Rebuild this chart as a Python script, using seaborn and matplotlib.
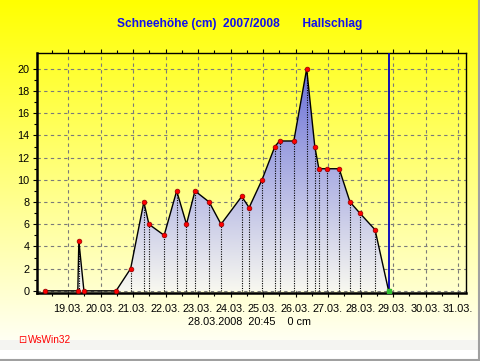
import numpy as np
import pandas as pd
import matplotlib
matplotlib.use("Agg")
import matplotlib.pyplot as plt
import matplotlib.dates as mdates
from matplotlib.colors import LinearSegmentedColormap
import seaborn as sns

# ---------------- data ----------------
times = [
    "2008-03-18 07:00", "2008-03-19 07:15", "2008-03-19 08:00", "2008-03-19 11:45",
    "2008-03-20 11:30", "2008-03-20 22:15", "2008-03-21 08:00", "2008-03-21 11:45",
    "2008-03-21 23:00", "2008-03-22 08:15", "2008-03-22 15:30", "2008-03-22 21:45",
    "2008-03-23 08:15", "2008-03-23 17:00", "2008-03-24 08:15", "2008-03-24 13:45",
    "2008-03-24 23:15", "2008-03-25 08:45", "2008-03-25 12:15", "2008-03-25 22:45",
    "2008-03-26 08:15", "2008-03-26 14:15", "2008-03-26 17:15", "2008-03-26 23:00",
    "2008-03-27 08:15", "2008-03-27 16:15", "2008-03-27 23:30", "2008-03-28 10:45",
    "2008-03-28 20:45",
]
snow_cm = [0, 0, 4.5, 0, 0, 2, 8, 6, 5, 9, 6, 9, 8, 6, 8.5, 7.5, 10, 13, 13.5, 13.5,
           20, 13, 11, 11, 11, 8, 7, 5.5, 0]
tick_dates = ["2008-03-%02d" % d for d in range(19, 32)]
tick_labels = ["%02d.03." % d for d in range(19, 32)]
y_ticks = [0, 2, 4, 6, 8, 10, 12, 14, 16, 18, 20]
title = "Schneehöhe (cm)  2007/2008       Hallschlag"
footer = "28.03.2008  20:45    0 cm"
current_time = "2008-03-28 20:45"

df = pd.DataFrame({"time": pd.to_datetime(times), "snow": snow_cm})

# ---------------- figure ----------------
W, H = 481, 361
fig = plt.figure(figsize=(W / 100, H / 100), dpi=100)
plt.rcParams['font.family'] = ['Liberation Sans', 'DejaVu Sans']

# background gradient
bg = fig.add_axes([0, 0, 1, 1])
bg.set_xlim(0, W)
bg.set_ylim(H, 0)
bg.axis("off")
ys = np.linspace(0, 340, 200)
blue = np.clip(ys / 340 * 0.95, 0, 1)
grad = np.zeros((200, 1, 3))
grad[:, 0, 0] = 1
grad[:, 0, 1] = 1
grad[:, 0, 2] = blue
bg.imshow(grad, extent=[0, W, 340, 0], aspect="auto", zorder=0)
bg.add_patch(plt.Rectangle((0, 340), W, 10, color="#f4f4f1", zorder=1, lw=0))
bg.add_patch(plt.Rectangle((0, 350), W, 11, color="#ffffff", zorder=1, lw=0))
bg.plot([479.5, 479.5], [0, H], color="#a0a0a0", lw=1.5, zorder=2)
bg.plot([0, W], [359.5, 359.5], color="#a0a0a0", lw=1.5, zorder=2)

# plot axes
L, R, T, B = 36.7, 466, 53.3, 292.5
ax = fig.add_axes([L / W, 1 - B / H, (R - L) / W, (B - T) / H])
ax.patch.set_alpha(0)

x0 = pd.Timestamp("2008-03-18 00:53")
x1 = pd.Timestamp("2008-03-31 05:54")
ax.set_xlim(x0, x1)
ax.set_ylim(-0.15, 21.4)

# gradient fill under curve
cmap = LinearSegmentedColormap.from_list("snow", ["#f8f8f0", "#6a70d8"])
gimg = np.linspace(0, 1, 256).reshape(-1, 1)
xn = mdates.date2num(df["time"])
im = ax.imshow(gimg, cmap=cmap, origin="lower", aspect="auto",
               extent=[mdates.date2num(x0), mdates.date2num(x1), 0, 20], zorder=1)
poly = ax.fill_between(xn, 0, df["snow"].values, color="none", lw=0)
im.set_clip_path(poly.get_paths()[0], transform=ax.transData)

# grid
ax.set_xticks(pd.to_datetime(tick_dates))
ax.set_xticklabels(tick_labels)
ax.set_yticks(y_ticks)
ax.grid(True, color="#7a7a7a", linestyle=(0, (3, 3)), lw=0.8, zorder=0.5)
ax.set_axisbelow(True)

# drop lines
ax.vlines(df["time"], 0, df["snow"], colors="black", linestyles=(0, (1, 1.2)), lw=0.8, zorder=2)

# line + markers
sns.lineplot(data=df, x="time", y="snow", ax=ax, color="black", lw=1, marker="o",
             markersize=3.4, markerfacecolor="red", markeredgecolor="#900000",
             markeredgewidth=0.5, zorder=4)

# current time line
ct = pd.Timestamp(current_time)
ax.axvline(ct, color="#0000c0", lw=1.3, zorder=3)
ax.plot([ct], [0], marker="s", markersize=2.5, color="#30c030", zorder=5)

# spines and ticks
for s in ["left", "bottom"]:
    ax.spines[s].set_linewidth(1.8)
for s in ["top", "right"]:
    ax.spines[s].set_linewidth(1.0)
ax.set_xlabel("")
ax.set_ylabel("")
ax.tick_params(axis="x", which="major", bottom=True, top=True, direction="out",
               length=3, width=0.8, labelsize=7.8, pad=5, colors="black")
ax.xaxis.set_minor_locator(mdates.HourLocator(byhour=[12]))
ax.tick_params(axis="x", which="minor", bottom=True, top=True, length=2, width=0.8)
ax.tick_params(axis="y", which="major", left=True, direction="out", length=3,
               width=0.8, labelsize=7.8, pad=2)
ax.set_yticks([1, 3, 5, 7, 9, 11, 13, 15, 17, 19], minor=True)
ax.tick_params(axis="y", which="minor", length=2, width=0.8)

# texts
fig.text(240 / W, 1 - 24 / H, title, ha="center", va="center", color="#1010ee",
         fontsize=8.6, fontweight="bold")
fig.text(250 / W, 1 - 322 / H, footer, ha="center", va="center", fontsize=7.8, color="black")
fig.text(18 / W, 1 - 340 / H, "⊡", ha="left", va="center", fontsize=7,
         color="red", family=["DejaVu Sans"])
fig.text(28 / W, 1 - 340 / H, "WsWin32", ha="left", va="center", fontsize=7.2,
         color="red")

fig.savefig("out.png", dpi=100)
